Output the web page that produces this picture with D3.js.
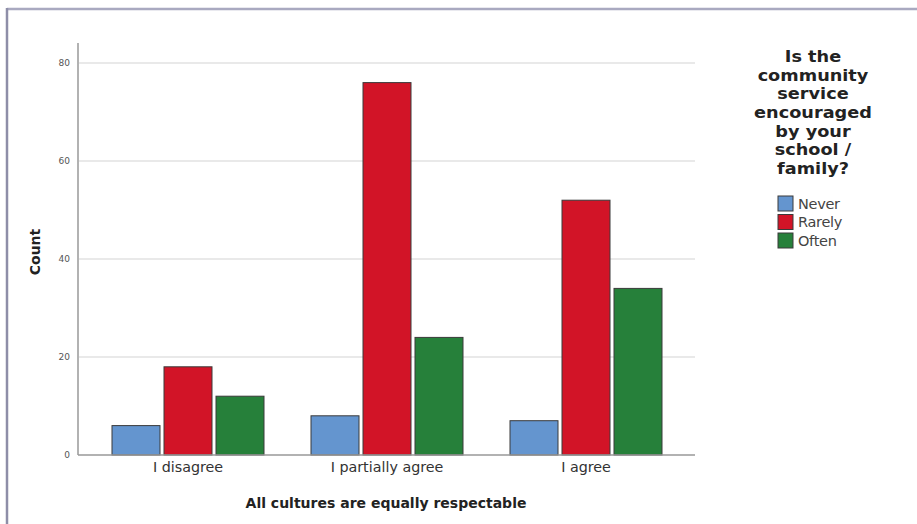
<!DOCTYPE html>
<html><head><meta charset="utf-8">
<script src="https://cdn.jsdelivr.net/npm/d3@7"></script>
<style>body{margin:0;background:#fff;}svg{display:block;}</style>
</head><body>
<script>
const categories = ["I disagree", "I partially agree", "I agree"];
const seriesNames = ["Never", "Rarely", "Often"];
const never = [6, 8, 7];
const rarely = [18, 76, 52];
const often = [12, 24, 34];
const colors = ["#6495cf", "#d21427", "#26803a"];
const yTicks = [0, 20, 40, 60, 80];
const legendTitle = ["Is the", "community", "service", "encouraged", "by your", "school /", "family?"];
const xTitle = "All cultures are equally respectable";
const yTitle = "Count";

const W = 917, H = 524;
const FONT = "'DejaVu Sans', Verdana, sans-serif";
const svg = d3.select("body").append("svg").attr("width", W).attr("height", H);

// frame
svg.append("line").attr("x1", 7).attr("x2", W).attr("y1", 9).attr("y2", 9).attr("stroke", "#a9a9c0").attr("stroke-width", 2.5);
svg.append("line").attr("x1", 7).attr("x2", 7).attr("y1", 8).attr("y2", H).attr("stroke", "#8e8ea8").attr("stroke-width", 2.5);

const y = d3.scaleLinear().domain([0, 80]).range([455, 63]);
const x0 = d3.scaleBand().domain(categories).range([88.5, 685.5]).paddingInner(0).paddingOuter(0);
const x1 = d3.scaleBand().domain(seriesNames).range([23.5, 175.5]).paddingInner(4 / 52).paddingOuter(0);

// grid
svg.append("g").selectAll("line").data(yTicks.filter(d => d > 0)).join("line")
  .attr("x1", 79).attr("x2", 695).attr("y1", d => y(d)).attr("y2", d => y(d))
  .attr("stroke", "#e2e2e2").attr("stroke-width", 1.5);

// y axis
const yAxis = d3.axisLeft(y).tickValues(yTicks).tickSize(0).tickPadding(8);
const gy = svg.append("g").attr("transform", "translate(78,0)").call(yAxis);
gy.select(".domain").remove();
gy.selectAll("text").attr("font-family", FONT).attr("font-size", 9).attr("fill", "#555");
svg.append("line").attr("x1", 78).attr("x2", 78).attr("y1", 43).attr("y2", 455).attr("stroke", "#999").attr("stroke-width", 1.5);

// bars
const data = categories.map((c, i) => ({ cat: c, vals: [never[i], rarely[i], often[i]] }));
const groups = svg.append("g").selectAll("g").data(data).join("g")
  .attr("transform", d => `translate(${x0(d.cat)},0)`);
groups.selectAll("rect").data(d => d.vals.map((v, j) => ({ v, s: seriesNames[j], j }))).join("rect")
  .attr("x", d => x1(d.s)).attr("width", x1.bandwidth())
  .attr("y", d => y(d.v)).attr("height", d => y(0) - y(d.v))
  .attr("fill", d => colors[d.j]).attr("stroke", "#3a3a3a").attr("stroke-width", 1);

// x axis
const xAxis = d3.axisBottom(x0).tickSize(0).tickPadding(7);
const gx = svg.append("g").attr("transform", "translate(0,455)").call(xAxis);
gx.select(".domain").remove();
gx.selectAll("text").attr("font-family", FONT).attr("font-size", 14.3).attr("fill", "#333");
svg.append("line").attr("x1", 78).attr("x2", 695).attr("y1", 455).attr("y2", 455).attr("stroke", "#999").attr("stroke-width", 1.5);

// titles
svg.append("text").attr("x", 386).attr("y", 508).attr("text-anchor", "middle")
  .attr("font-family", FONT).attr("font-size", 14).attr("font-weight", "bold").attr("fill", "#222")
  .text(xTitle);
svg.append("text").attr("transform", "translate(40,252) rotate(-90)").attr("text-anchor", "middle")
  .attr("font-family", FONT).attr("font-size", 14).attr("font-weight", "bold").attr("fill", "#222")
  .text(yTitle);

// legend title: one text per line, widened horizontally to match the reference's wide bold face
const ltg = svg.append("g").attr("transform", "translate(813,0) scale(1.12,1)");
ltg.selectAll("text").data(legendTitle).join("text")
  .attr("x", 0).attr("y", (d, i) => 62 + i * 18.7).attr("text-anchor", "middle")
  .attr("font-family", FONT).attr("font-size", 15.8).attr("font-weight", "bold").attr("fill", "#222")
  .text(d => d);

const lg = svg.append("g").selectAll("g").data(seriesNames).join("g")
  .attr("transform", (d, i) => `translate(778,${196 + i * 18.5})`);
lg.append("rect").attr("width", 15).attr("height", 15).attr("fill", (d, i) => colors[i]).attr("stroke", "#3a3a3a").attr("stroke-width", 1);
lg.append("text").attr("x", 20).attr("y", 12.8).attr("font-family", FONT).attr("font-size", 14.5).attr("fill", "#444").attr("letter-spacing", "-0.3px").text(d => d);
</script>
</body></html>
